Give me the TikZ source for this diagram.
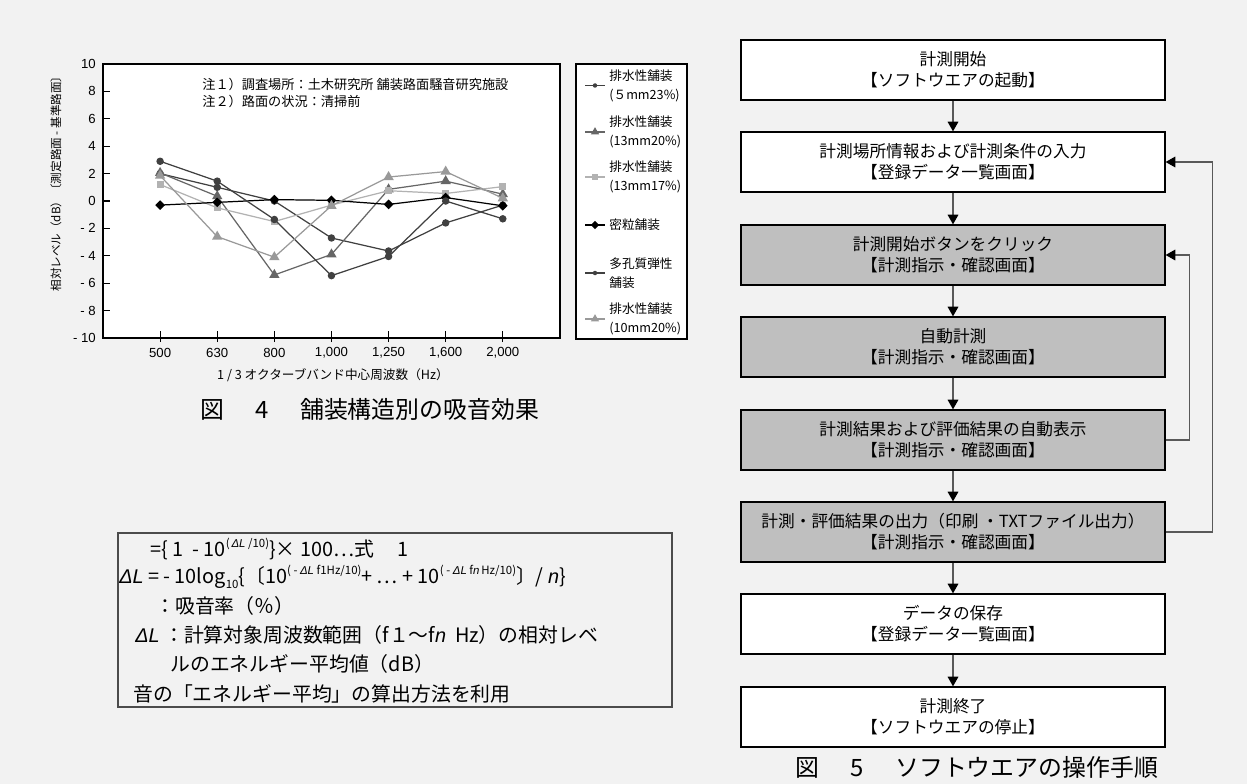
\documentclass[tikz,border=0pt]{standalone}
\usepackage{fontspec}
\setmainfont{Noto Sans CJK JP}
\newfontfamily\arialf{Liberation Sans}
\usetikzlibrary{arrows.meta,shapes.geometric}
\colorlet{bgx}{black!5}
\colorlet{dkx}{black!75}
\colorlet{mdx}{black!60}
\colorlet{lgx}{black!40}
\colorlet{sqx}{black!30}
\colorlet{gbx}{black!25}
\newcommand{\dL}{{\arialf\itshape ΔL}}
\newcommand{\itn}{{\arialf\itshape n}}
\newcommand{\upidx}[1]{\raisebox{0.8ex}{\fontsize{6.5pt}{7pt}\selectfont #1}}
\newcommand{\dnidx}[1]{\raisebox{-0.5ex}{\fontsize{6.5pt}{7pt}\selectfont #1}}
\tikzset{
    dot/.style={circle,fill,inner sep=0pt,minimum size=0.15cm},
    tri/.style={regular polygon,regular polygon sides=3,fill,inner sep=0pt,minimum size=0.24cm},
    sqr/.style={rectangle,fill,inner sep=0pt,minimum size=0.14cm},
    dia/.style={diamond,fill,inner sep=0pt,minimum size=0.2cm},
    ser/.style={line width=0.7pt},
    ticklab/.style={font=\arialf\fontsize{7.5pt}{9pt}\selectfont,inner sep=0pt},
    whitebox/.style={draw,fill=white,line width=0.7pt,minimum width=8.48cm,minimum height=1.2cm,
        align=center,font=\fontsize{9.5pt}{12pt}\selectfont},
    graybox/.style={whitebox,fill=gbx},
    flowarr/.style={draw=black!65,line width=0.8pt,-{Triangle[length=5.5pt,width=6pt,color=black]}},
    capt/.style={font=\fontsize{13.6pt}{16pt}\selectfont}
}

\begin{document}
\begin{tikzpicture}[x=0.02cm,y=-0.02cm]
    \fill[bgx] (0,0) rectangle (1247,784);
    \useasboundingbox (0,0) rectangle (1247,784);

    \draw[fill=white,line width=0.7pt] (103,64) rectangle (560,338);
    \node[inner sep=0pt,anchor=west,align=left,font=\fontsize{7.5pt}{9.6pt}\selectfont] (notes) at (202,93)
        {注１）調査場所：土木研究所 舗装路面騒音研究施設\\注２）路面の状況：清掃前};
    \begin{scope}[shift={(103,201)},x=1.1425cm,y=0.274cm]
        \foreach \v in {-10,-8,...,10} {
            \draw[line width=0.6pt] (0,\v) -- (0.12,\v);
        }
        \foreach \v/\t in {10/10,8/8,6/6,4/4,2/2,0/0,-2/- 2,-4/- 4,-6/- 6,-8/- 8,-10/- 10} {
            \node[ticklab,anchor=east] (yl\v) at (-0.12,\v) {\t};
        }
        \foreach \t [count=\i] in {500,630,800,{1,000},{1,250},{1,600},{2,000}} {
            \draw[line width=0.6pt] (\i,-10.3) -- (\i,-9.5);
            \node[ticklab] (xl\i) at (\i,-11.1) {\t};
        }
        \draw[dkx,ser] plot coordinates {(1,2.0) (2,1.0) (3,0) (4,-2.7) (5,-3.65) (6,-1.6) (7,-0.3)};
        \foreach \v [count=\i] in {2.0,1.0,0,-2.7,-3.65,-1.6,-0.3} {
            \node[dot,dkx] (a\i) at (\i,\v) {};
        }
        \draw[mdx,ser] plot coordinates {(1,2.05) (2,0.35) (3,-5.4) (4,-3.9) (5,0.85) (6,1.45) (7,0.5)};
        \foreach \v [count=\i] in {2.05,0.35,-5.4,-3.9,0.85,1.45,0.5} {
            \node[tri,mdx] (b\i) at (\i,\v) {};
        }
        \draw[sqx,ser] plot coordinates {(1,1.2) (2,-0.5) (3,-1.5) (4,-0.3) (5,0.75) (6,0.55) (7,1.05)};
        \foreach \v [count=\i] in {1.2,-0.5,-1.5,-0.3,0.75,0.55,1.05} {
            \node[sqr,sqx] (c\i) at (\i,\v) {};
        }
        \draw[black,ser] plot coordinates {(1,-0.3) (2,-0.1) (3,0.1) (4,0.05) (5,-0.25) (6,0.25) (7,-0.35)};
        \foreach \v [count=\i] in {-0.3,-0.1,0.1,0.05,-0.25,0.25,-0.35} {
            \node[dia,black] (d\i) at (\i,\v) {};
        }
        \draw[dkx,ser] plot coordinates {(1,2.9) (2,1.45) (3,-1.35) (4,-5.45) (5,-4.05) (6,0) (7,-1.3)};
        \foreach \v [count=\i] in {2.9,1.45,-1.35,-5.45,-4.05,0,-1.3} {
            \node[dot,dkx] (e\i) at (\i,\v) {};
        }
        \draw[lgx,ser] plot coordinates {(1,1.85) (2,-2.6) (3,-4.1) (4,-0.35) (5,1.75) (6,2.15) (7,0.2)};
        \foreach \v [count=\i] in {1.85,-2.6,-4.1,-0.35,1.75,2.15,0.2} {
            \node[tri,lgx] (f\i) at (\i,\v) {};
        }
    \end{scope}
    \node[rotate=90,inner sep=0pt,font=\fontsize{6.6pt}{8pt}\selectfont] (ytitle) at (56,181)
        {相対レベル（dB）〔測定路面 - 基準路面〕};
    \node[inner sep=0pt,font=\fontsize{7.2pt}{9pt}\selectfont] (xtitle) at (333,375)
        {1 / 3 オクターブバンド中心周波数（Hz）};
    \node[capt] (cap4) at (370,409) {図\hspace{1.3em}4\hspace{1.3em}舗装構造別の吸音効果};

    \draw[fill=white,line width=0.7pt] (576,64) rectangle (687,339);
    \foreach \yy/\mk/\cl/\sc/\txt in {
        85.5/dot/dkx/0.6/{排水性舗装\\(５mm23\%)},
        132/tri/mdx/0.8/{排水性舗装\\(13mm20\%)},
        177/sqr/sqx/0.75/{排水性舗装\\(13mm17\%)},
        225/dia/black/0.85/{密粒舗装},
        273/dot/dkx/0.6/{多孔質弾性\\舗装},
        319/tri/lgx/0.8/{排水性舗装\\(10mm20\%)}} {
        \draw[\cl,line width=0.6pt] (585,\yy) -- (605,\yy);
        \node[\mk,\cl,scale=\sc] (lm\yy) at (595,\yy) {};
        \node[anchor=west,align=left,inner sep=0pt,font=\fontsize{7.2pt}{10.8pt}\selectfont] (lt\yy) at (609,\yy) {\txt};
    }

    \draw[black!70,line width=0.7pt] (118,533) rectangle (672,707);
    \begin{scope}[every node/.style={anchor=west,inner sep=0pt,font=\fontsize{11.3pt}{13pt}\selectfont}]
        \node (f1) at (150,549) {=\{ 1 \ - 10\upidx{(\,\dL\ /10)}\}× 100…式\hspace{1.2em}1};
        \node (f2) at (119,577) {\dL\ = - 10log\dnidx{10}\{〔10\upidx{( - \dL\ f1Hz/10)}+ … + 10\upidx{( - \dL\ f\itn\,Hz/10)}〕/ \itn\}};
        \node (f3) at (155,606) {：吸音率（％）};
        \node (f4) at (135,635) {\dL\ ：計算対象周波数範囲（f１～f\itn\ \ Hz）の相対レベ};
        \node (f5) at (170,664) {ルのエネルギー平均値（dB）};
        \node (f6) at (133,694) {音の「エネルギー平均」の算出方法を利用};
    \end{scope}

    \node[whitebox] (start) at (953,70) {計測開始\\【ソフトウエアの起動】};
    \node[whitebox] (input) at (953,162) {計測場所情報および計測条件の入力\\【登録データ一覧画面】};
    \node[graybox] (click) at (953,255) {計測開始ボタンをクリック\\【計測指示・確認画面】};
    \node[graybox] (auto) at (953,347) {自動計測\\【計測指示・確認画面】};
    \node[graybox] (show) at (953,440) {計測結果および評価結果の自動表示\\【計測指示・確認画面】};
    \node[graybox] (output) at (953,532) {計測・評価結果の出力（印刷 ・TXTファイル出力）\\【計測指示・確認画面】};
    \node[whitebox] (save) at (953,624) {データの保存\\【登録データ一覧画面】};
    \node[whitebox] (stop) at (953,717) {計測終了\\【ソフトウエアの停止】};
    \draw[flowarr] (start) -- (input);
    \draw[flowarr] (input) -- (click);
    \draw[flowarr] (click) -- (auto);
    \draw[flowarr] (auto) -- (show);
    \draw[flowarr] (show) -- (output);
    \draw[flowarr] (output) -- (save);
    \draw[flowarr] (save) -- (stop);
    \draw[flowarr] (show.east) -- ++(24,0) |- (click.east);
    \draw[flowarr] (output.east) -- ++(47,0) |- (input.east);
    \node[capt] (cap5) at (977,767) {図\hspace{1.3em}5\hspace{1.3em}ソフトウエアの操作手順};
\end{tikzpicture}
\end{document}
